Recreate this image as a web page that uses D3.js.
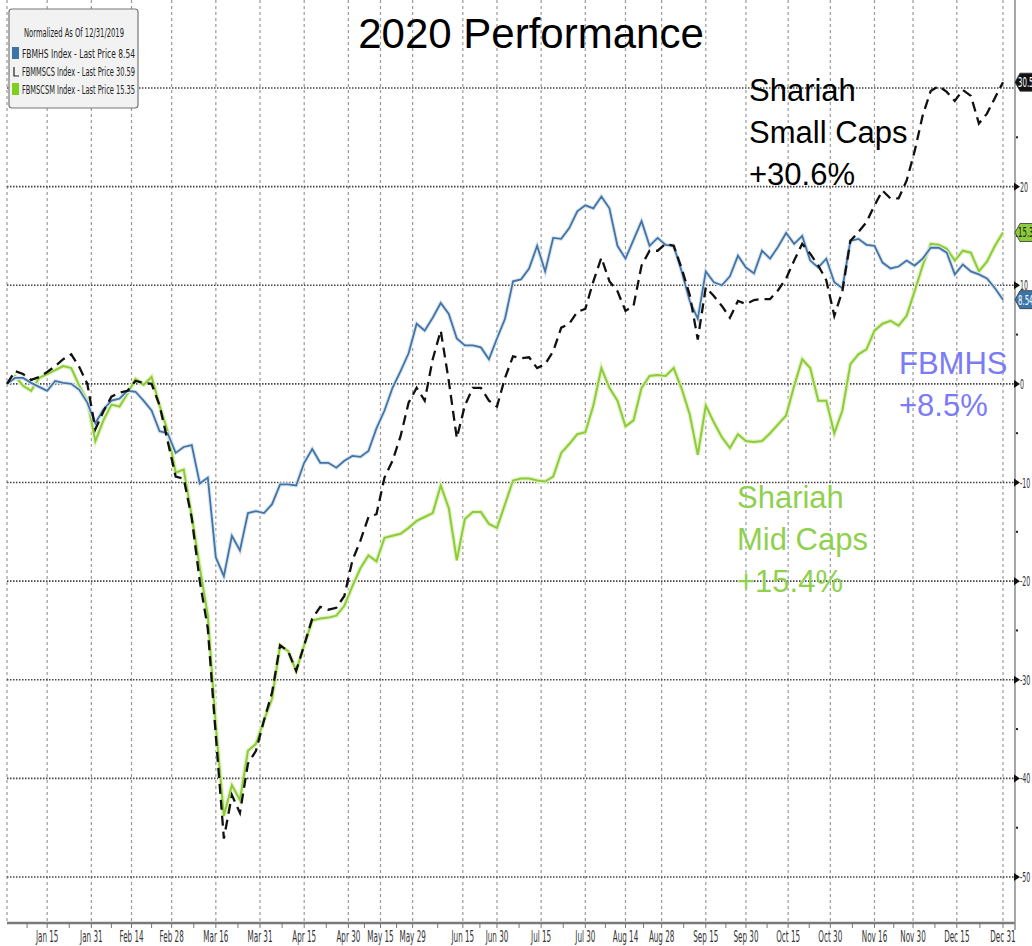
<!DOCTYPE html>
<html lang="en">
<head>
  <meta charset="UTF-8">
  <script src="https://cdn.jsdelivr.net/npm/d3@7"></script>
  <title>2020 Performance</title>
  <style>
    body { margin: 0; background: #fff; }
    svg { display: block; }
  </style>
</head>
<body>
  <svg width="1032" height="946" id="chart"></svg>
  <script>

  /* DATA - one value every 2 trading days, % change since 12/31/2019 */
  const fbmhs = [0.0,0.6,0.6,0.1,-0.3,-0.7,0.3,0.1,0.0,-0.6,-1.9,-4.0,-2.6,-1.7,-1.5,-0.7,-0.8,-1.7,-2.7,-4.8,
    -5.0,-7.0,-6.4,-6.2,-10.1,-9.5,-17.6,-19.5,-15.4,-16.9,-13.1,-12.9,-13.1,-12.2,-10.2,-10.2,-10.3,-8.0,-6.6,-8.0,
    -8.0,-8.5,-7.8,-7.3,-7.4,-6.8,-4.5,-2.7,-0.4,1.3,3.1,6.1,5.4,6.7,8.2,7.1,4.6,3.9,3.9,3.7,
    2.5,4.6,6.6,10.4,10.6,11.7,14.0,11.4,14.8,14.7,15.8,17.5,18.1,17.8,19.0,17.8,14.0,12.7,14.6,16.5,
    14.0,14.8,14.1,14.0,11.4,8.4,6.6,11.4,10.3,10.0,10.9,13.0,11.8,11.2,13.5,12.7,13.9,15.3,14.2,15.0,
    12.5,11.8,12.7,10.3,9.7,14.5,14.7,14.1,14.0,12.3,11.7,11.9,12.5,12.0,12.7,13.8,13.8,13.3,11.1,12.1,
    11.4,11.1,10.7,9.7,8.54];

  const fbmmscs = [0.0,1.3,1.0,0.4,0.7,1.2,1.8,2.5,3.0,1.7,0.0,-4.6,-2.8,-1.3,-0.9,-0.7,0.3,0.1,0.0,-2.2,
    -5.8,-9.4,-9.6,-13.6,-20.0,-24.8,-35.7,-46.1,-41.7,-43.5,-38.5,-37.2,-34.1,-31.3,-26.5,-27.1,-29.1,-26.5,-23.8,-22.6,
    -22.9,-22.7,-21.5,-17.9,-15.9,-13.5,-13.2,-9.5,-7.8,-5.3,-1.9,-0.4,-1.7,2.5,5.4,0.3,-5.5,-2.2,-0.4,-0.4,
    -1.7,-2.3,0.6,2.8,2.6,2.7,1.6,2.0,3.3,5.7,6.1,7.3,7.6,10.4,12.8,10.4,9.4,7.4,7.9,12.0,
    13.5,13.5,14.2,14.0,11.7,9.0,4.5,9.8,8.9,7.9,6.7,8.4,8.1,8.5,8.6,8.6,9.5,10.7,12.5,14.2,
    13.2,12.0,10.5,6.9,9.4,14.5,15.4,16.4,18.1,19.6,18.8,18.8,20.6,23.6,27.2,29.7,30.2,29.6,28.7,29.8,
    29.2,26.4,27.4,29.0,30.59];

  const fbmscsm = [0.0,0.8,-0.2,-0.7,0.6,1.0,1.4,1.8,1.6,-0.2,-1.7,-5.8,-3.7,-2.1,-2.3,-1.0,0.5,-0.1,0.7,-2.2,
    -4.8,-9.0,-8.7,-13.4,-18.6,-23.5,-34.7,-43.8,-40.7,-42.2,-37.2,-36.5,-34.1,-31.9,-26.5,-27.1,-29.1,-26.5,-24.0,-23.8,
    -23.7,-23.5,-22.5,-20.5,-18.7,-17.4,-18.0,-15.6,-15.4,-15.2,-14.6,-13.9,-13.5,-13.1,-10.3,-12.6,-17.9,-13.7,-13.0,-13.0,
    -14.2,-14.6,-12.2,-9.8,-9.6,-9.6,-9.8,-9.9,-9.4,-7.0,-6.1,-5.1,-4.9,-2.2,1.6,-0.4,-1.7,-4.3,-3.7,-0.4,
    0.8,0.9,0.8,1.6,-0.5,-3.1,-7.2,-2.2,-3.9,-5.4,-6.5,-5.1,-5.8,-5.9,-5.8,-5.0,-4.1,-3.2,-0.2,2.5,
    1.6,-1.7,-1.7,-5.0,-2.7,2.0,3.0,3.5,5.4,6.1,6.4,5.9,6.9,9.4,12.0,14.2,14.1,13.7,12.5,13.5,
    13.3,11.4,12.4,14.0,15.35];

  const tickLabels = ["Jan 15","Jan 31","Feb 14","Feb 28","Mar 16","Mar 31","Apr 15","Apr 30","May 15","May 29","Jun 15","Jun 30",
    "Jul 15","Jul 30","Aug 14","Aug 28","Sep 15","Sep 30","Oct 15","Oct 30","Nov 16","Nov 30","Dec 15","Dec 31"];
  const tickDays = [10,21,31,41,52,63,74,85,93,101,113.5,122,133,144,154,163,174,184,194.5,205,216,225.6,236.5,248];

  const yTicks = [20,10,0,-10,-20,-30,-40,-50];

  const legendRows = ["FBMHS Index - Last Price   8.54","FBMMSCS Index - Last Price 30.59","FBMSCSM Index - Last Price 15.35"];

  /* SCALES */
  let svg = d3.select("#chart");
  let x = d3.scaleLinear().domain([0, 248]).range([7, 1003]);
  let y = d3.scaleLinear().domain([-50, 30]).range([877, 88]);
  const axisRight = 1015, axisBottom = 923;
  const bbgFont = "'DejaVu Sans',sans-serif";

  /* GRID */
  let grid = svg.append("g");
  grid.selectAll(".vgrid")
    .data([0].concat(tickDays))
    .enter().append("line")
    .attr("x1", d => x(d)).attr("x2", d => x(d))
    .attr("y1", 0).attr("y2", axisBottom)
    .attr("stroke", "#9a9a9a").attr("stroke-width", 1.2)
    .attr("stroke-dasharray", "3,3");

  grid.selectAll(".hgrid")
    .data(yTicks.concat([30]))
    .enter().append("line")
    .attr("x1", 7).attr("x2", axisRight)
    .attr("y1", d => y(d)).attr("y2", d => y(d))
    .attr("stroke", "#444").attr("stroke-width", 1.6)
    .attr("stroke-dasharray", "1.5,1.5");

  /* LINES */
  let line = d3.line().x((d, i) => x(i * 2)).y(d => y(d));

  svg.append("path").datum(fbmscsm).attr("d", line)
    .attr("fill", "none").attr("stroke", "#e4f4c4").attr("stroke-width", 4.5);
  svg.append("path").datum(fbmscsm).attr("d", line)
    .attr("fill", "none").attr("stroke", "#8ccb3c").attr("stroke-width", 2);

  svg.append("path").datum(fbmhs).attr("d", line)
    .attr("fill", "none").attr("stroke", "#dbe6f0").attr("stroke-width", 4);
  svg.append("path").datum(fbmhs).attr("d", line)
    .attr("fill", "none").attr("stroke", "#4274a6").attr("stroke-width", 1.8);

  svg.append("path").datum(fbmmscs).attr("d", line)
    .attr("fill", "none").attr("stroke", "#111").attr("stroke-width", 2.3)
    .attr("stroke-dasharray", "10,6");

  /* AXES */
  svg.append("line")
    .attr("x1", 7).attr("x2", axisRight)
    .attr("y1", axisBottom).attr("y2", axisBottom)
    .attr("stroke", "#7a7a7a").attr("stroke-width", 2.5);

  let minorDays = d3.pairs([0].concat(tickDays)).map(p => (p[0] + p[1]) / 2);
  svg.selectAll(".xminor")
    .data(minorDays.concat(tickDays))
    .enter().append("line")
    .attr("x1", d => x(d)).attr("x2", d => x(d))
    .attr("y1", axisBottom).attr("y2", axisBottom + 5)
    .attr("stroke", "#777").attr("stroke-width", 1);

  // condensed terminal look: squash the glyphs horizontally with a transform
  svg.selectAll(".xlabel")
    .data(tickLabels)
    .enter().append("text")
    .attr("transform", (d, i) => `translate(${x(tickDays[i])},942) scale(0.48,1)`)
    .attr("text-anchor", "middle")
    .style("font-family", bbgFont)
    .style("font-size", "15px")
    .attr("fill", "#333")
    .text(d => d);

  svg.append("line")
    .attr("x1", axisRight).attr("x2", axisRight)
    .attr("y1", 0).attr("y2", 930)
    .attr("stroke", "#8a8a8a").attr("stroke-width", 1.5);

  // arrow heads on the gridlines
  svg.selectAll(".arrow")
    .data(yTicks)
    .enter().append("path")
    .attr("d", d => `M${axisRight - 1},${y(d) - 4}L${axisRight + 5},${y(d)}L${axisRight - 1},${y(d) + 4}Z`)
    .attr("fill", "#111");

  svg.selectAll(".yminor")
    .data(d3.range(-45, 30, 10))
    .enter().append("rect")
    .attr("x", axisRight + 1).attr("y", d => y(d) - 1)
    .attr("width", 2).attr("height", 2)
    .attr("fill", "#222");

  svg.selectAll(".ylabel")
    .data(yTicks)
    .enter().append("text")
    .attr("transform", d => `translate(${axisRight + 5},${y(d) + 5}) scale(0.45,1)`)
    .style("font-family", bbgFont)
    .style("font-size", "14px")
    .attr("fill", "#333")
    .text(d => d);

  /* LAST PRICE TAGS */
  let tags = [
    {v: 30.59, fill: "#111", txt: "#fff"},
    {v: 15.35, fill: "#8ccb3c", txt: "#222"},
    {v: 8.54, fill: "#3c73a8", txt: "#fff"}
  ];
  svg.selectAll(".tag")
    .data(tags)
    .enter().append("path")
    .attr("d", d => `M${axisRight},${y(d.v)}L${axisRight + 5},${y(d.v) - 9}L1040,${y(d.v) - 9}L1040,${y(d.v) + 9}L${axisRight + 5},${y(d.v) + 9}Z`)
    .attr("fill", d => d.fill).attr("stroke", "#333").attr("stroke-width", 0.8);
  svg.selectAll(".tagtext")
    .data(tags)
    .enter().append("text")
    .attr("transform", d => `translate(${axisRight + 3},${y(d.v) + 5}) scale(0.5,1)`)
    .style("font-family", bbgFont)
    .style("font-size", "14px")
    .attr("fill", d => d.txt)
    .text(d => d.v.toFixed(2));

  /* LEGEND */
  let legend = svg.append("g");
  legend.append("rect")
    .attr("x", 9).attr("y", 9).attr("width", 129).attr("height", 99)
    .attr("rx", 3)
    .attr("fill", "#f2f2f2").attr("stroke", "#777").attr("stroke-width", 1.2);
  legend.append("text")
    .attr("x", 74).attr("y", 37)
    .attr("text-anchor", "middle")
    .style("font-family", bbgFont).style("font-size", "13px")
    .attr("fill", "#222")
    .attr("textLength", 100).attr("lengthAdjust", "spacingAndGlyphs")
    .text("Normalized As Of 12/31/2019");
  legend.selectAll(".lrow")
    .data(legendRows)
    .enter().append("text")
    .attr("x", 22).attr("y", (d, i) => 58 + i * 18)
    .style("font-family", bbgFont).style("font-size", "13px")
    .attr("fill", "#222")
    .attr("textLength", 113).attr("lengthAdjust", "spacingAndGlyphs")
    .text(d => d);
  legend.append("rect").attr("x", 12).attr("y", 47).attr("width", 7).attr("height", 12).attr("fill", "#3c73a8");
  legend.append("path").attr("d", "M14,67L14,76L19,76").attr("fill", "none").attr("stroke", "#222").attr("stroke-width", 1.2);
  legend.append("rect").attr("x", 12).attr("y", 83).attr("width", 7).attr("height", 12).attr("fill", "#7fcf1f");

  /* TITLE AND NOTES */
  svg.append("text")
    .attr("x", 531).attr("y", 48)
    .attr("text-anchor", "middle")
    .style("font-family", "'Liberation Sans',Arial,sans-serif")
    .style("font-size", "42px")
    .attr("fill", "#000")
    .text("2020 Performance");

  function note(lines, xPos, yPos, color) {
    svg.append("g").selectAll("text")
      .data(lines)
      .enter().append("text")
      .attr("x", xPos).attr("y", (d, i) => yPos + i * 42)
      .style("font-family", "'Liberation Sans',Arial,sans-serif")
      .style("font-size", "31px")
      .attr("fill", color)
      .text(d => d);
  }
  note(["Shariah", "Small Caps", "+30.6%"], 749, 101, "#000");
  note(["FBMHS", "+8.5%"], 899, 374, "#7b7bf6");
  note(["Shariah", "Mid Caps", "+15.4%"], 737, 508, "#8fd14f");

  </script>
</body>
</html>
